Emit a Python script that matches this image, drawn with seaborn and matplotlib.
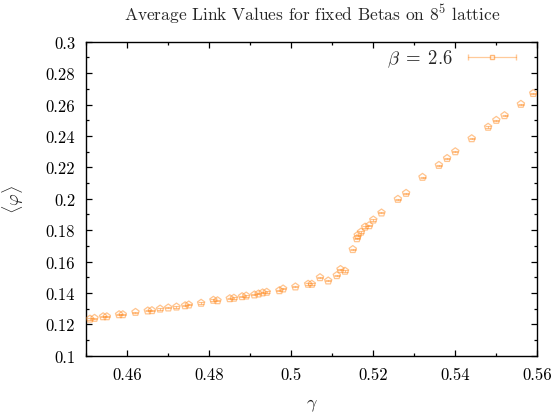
import numpy as np
import pandas as pd
import matplotlib
matplotlib.use("Agg")
import matplotlib.pyplot as plt
import seaborn as sns
from matplotlib.ticker import MultipleLocator, FuncFormatter
from matplotlib.legend_handler import HandlerBase
from matplotlib.lines import Line2D

gamma = [0.4509, 0.4520, 0.4541, 0.4550, 0.4580, 0.4589, 0.4620, 0.4650, 0.4660,
         0.4680, 0.4700, 0.4720, 0.4741, 0.4750, 0.4780, 0.4810, 0.4820, 0.4850,
         0.4860, 0.4880, 0.4890, 0.4910, 0.4920, 0.4930, 0.4940, 0.4971, 0.4980,
         0.5010, 0.5041, 0.5050, 0.5070, 0.5090, 0.5111, 0.5120, 0.5131, 0.5150,
         0.5160, 0.5162, 0.5170, 0.5180, 0.5190, 0.5200, 0.5220, 0.5260, 0.5280,
         0.5320, 0.5360, 0.5380, 0.5400, 0.5440, 0.5480, 0.5500, 0.5520, 0.5560,
         0.5590]
phi = [0.1234, 0.1239, 0.1249, 0.1249, 0.1262, 0.1262, 0.1277, 0.1286, 0.1288,
       0.1298, 0.1305, 0.1311, 0.1319, 0.1324, 0.1335, 0.1354, 0.1351, 0.1364,
       0.1367, 0.1377, 0.1381, 0.1388, 0.1394, 0.1401, 0.1405, 0.1415, 0.1426,
       0.1439, 0.1456, 0.1456, 0.1498, 0.1477, 0.1511, 0.1550, 0.1539, 0.1677,
       0.1746, 0.1767, 0.1788, 0.1820, 0.1829, 0.1865, 0.1910, 0.1997, 0.2035,
       0.2137, 0.2213, 0.2257, 0.2300, 0.2383, 0.2456, 0.2500, 0.2530, 0.2602,
       0.2671]
phi_err = [0.0004] * len(phi)

series_label = r"$\beta \;=\; 2.6$"
title = r"Average Link Values for fixed Betas on $8^5$ lattice"
xlabel = r"$\gamma$"
ylabel = r"$\langle\varphi\rangle$"

df = pd.DataFrame({"gamma": gamma, "phi": phi, "err": phi_err})

sns.set_theme(style="ticks")
plt.rcParams["font.family"] = ["cmr10", "DejaVu Serif"]
plt.rcParams["mathtext.fontset"] = "cm"
plt.rcParams["axes.formatter.use_mathtext"] = True

color = "#ff8a1f"

fig = plt.figure(figsize=(5.56, 4.14), dpi=100)
ax = fig.add_axes([86.3 / 556, 1 - 356.7 / 414, (537.3 - 86.3) / 556, (356.7 - 42.7) / 414])

ax.errorbar(df["gamma"], df["phi"], yerr=df["err"], fmt="none", ecolor=color,
            alpha=0.5, elinewidth=0.8, capsize=2.5, capthick=0.8, zorder=2)
sns.scatterplot(data=df, x="gamma", y="phi", ax=ax, marker="p", s=30,
                facecolor="none", edgecolor=color, linewidth=0.9, alpha=0.5,
                legend=False, zorder=3)

ax.set_xlim(0.45, 0.56)
ax.set_ylim(0.1, 0.3)
ax.xaxis.set_major_locator(MultipleLocator(0.02))
ax.xaxis.set_minor_locator(MultipleLocator(0.01))
ax.yaxis.set_major_locator(MultipleLocator(0.02))
ax.yaxis.set_minor_locator(MultipleLocator(0.01))
fmt = FuncFormatter(lambda v, p: "%g" % round(v, 4))
ax.xaxis.set_major_formatter(fmt)
ax.yaxis.set_major_formatter(fmt)
ax.tick_params(which="both", direction="in", top=True, right=True, colors="black",
               labelsize=12, width=0.9)
ax.tick_params(which="major", length=4.5, pad=8)
ax.tick_params(which="minor", length=2.5)
for s in ax.spines.values():
    s.set_color("black")
    s.set_linewidth(1.0)

ax.set_xlabel(xlabel, fontsize=13, labelpad=10)
ax.set_ylabel(ylabel, fontsize=13, labelpad=14)
ax.set_title(title, fontsize=12.5, pad=16)


class ErrHandler(HandlerBase):
    def create_artists(self, legend, orig_handle, xdescent, ydescent, width, height,
                       fontsize, trans):
        y = height / 2 - ydescent
        x0, x1 = -xdescent, width - xdescent
        line = Line2D([x0, x1], [y, y], color=color, alpha=0.45, lw=0.9,
                      transform=trans)
        caps = Line2D([x0, x1], [y, y], color=color, alpha=0.45, lw=0, marker="|",
                      markersize=4, transform=trans)
        mk = Line2D([(x0 + x1) / 2], [y], color=color, alpha=0.6, lw=0, marker="s",
                    markersize=3.5, markerfacecolor="white", transform=trans)
        return [line, caps, mk]


handle = Line2D([], [], color=color)
ax.legend([handle], [series_label], handler_map={Line2D: ErrHandler()},
          loc="upper right", frameon=False, markerfirst=False, fontsize=13.5,
          handlelength=2.6, borderaxespad=0.0, handletextpad=0.8,
          bbox_to_anchor=(0.97, 1.005))

fig.savefig("out.png", dpi=100)
